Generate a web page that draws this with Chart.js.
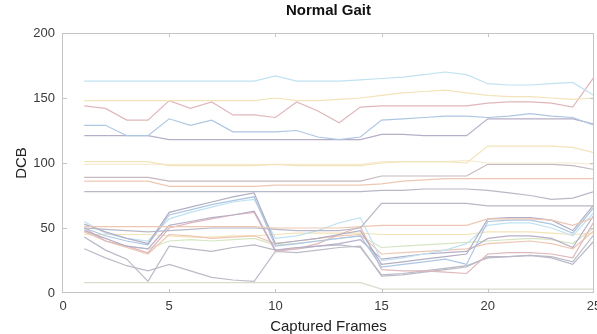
<!DOCTYPE html>
<html>
<head>
<meta charset="utf-8">
<title>Normal Gait</title>
<script src="https://cdn.jsdelivr.net/npm/chart.js@4.4.1/dist/chart.umd.min.js"></script>
<style>
  html, body { margin: 0; padding: 0; background: #ffffff; overflow: hidden; }
  #c { display: block; }
</style>
</head>
<body>
<canvas id="c" width="597" height="334"></canvas>
<script>
// Frame index shared by every trace
const frames = [1,2,3,4,5,6,7,8,9,10,11,12,13,14,15,16,17,18,19,20,21,22,23,24,25];

// DCB traces, one array per tracked point
const dcbA = [163,163,163,163,163,163,163,163,163,167,163,163,163,164,165,166,168,170,168,161,160,160,161,162,152];
const dcbB = [148,148,148,148,148,148,148,148,148,150,148,148,149,150,152,154,155,156,154,152,151,151,150,149,150];
const dcbC = [144,142,133,133,148,142,147,137,137,135,147,140,131,143,144,144,144,144,144,146,147,147,146,143,166];
const dcbD = [129,129,121,121,134,129,133,124,124,124,125,120,118,120,133,134,135,136,136,135,136,138,136,135,129];
const dcbE = [121,121,121,121,118,118,118,118,118,118,118,118,118,118,122,122,121,121,121,134,134,134,134,134,130];
const dcbF = [101,101,101,101,98,98,98,98,98,99,98,98,98,98,100,101,101,101,100,113,113,113,113,112,108];
const dcbG = [99,99,99,99,99,99,99,99,99,99,99,99,99,99,101,101,101,101,102,100,100,100,100,100,99];
const dcbH = [89,89,89,89,86,86,86,86,86,86,86,86,86,86,90,90,90,90,90,99,99,99,99,98,95];
const dcbI = [86,86,86,86,82,82,82,82,82,83,83,83,83,83,84,86,87,88,88,88,88,88,88,88,88];
const dcbJ = [78,78,78,78,78,78,78,78,78,78,78,78,78,78,79,79,80,80,80,79,77,75,72,73,78];
const dcbK = [50,49,48,47,48,49,50,50,50,49,48,48,48,50,69,69,69,69,69,67,67,67,67,67,67];
const dcbL = [51,51,51,51,51,51,51,51,51,50,50,50,50,51,52,52,52,52,52,57,57,57,56,52,58];
const dcbM = [53,47,42,38,62,66,70,74,77,38,40,42,45,48,22,24,26,28,30,57,58,58,56,48,68];
const dcbN = [50,44,40,37,60,64,68,71,74,36,38,40,42,44,20,22,24,26,22,55,56,56,53,46,66];
const dcbO = [55,46,42,40,57,62,66,70,72,42,44,48,54,58,25,27,30,33,38,52,54,54,50,44,62];
const dcbP = [48,42,36,34,52,55,58,60,63,33,35,36,38,41,26,28,30,31,32,42,44,44,42,35,60];
const dcbQ = [50,40,36,31,50,54,57,60,62,32,34,38,45,51,18,17,17,16,15,30,31,31,30,27,55];
const dcbR = [43,33,26,9,36,34,32,35,37,33,34,36,37,35,14,15,17,19,21,27,28,29,27,22,40];
const dcbS = [34,27,21,17,22,17,12,10,9,32,31,33,35,36,13,14,16,18,20,28,28,29,28,24,45];
const dcbT = [47,40,35,30,45,44,42,43,44,38,40,42,44,45,30,31,32,33,34,38,39,40,38,34,48];
const dcbU = [45,45,45,45,44,43,43,44,44,45,46,46,46,46,45,45,45,45,45,47,47,47,46,45,46];
const dcbV = [49,40,36,34,40,41,40,41,42,37,38,40,42,44,35,36,37,38,39,40,41,42,41,38,50];
const dcbW = [8,8,8,8,8,8,8,8,8,8,8,8,8,8,3,3,3,3,3,3,3,3,3,3,3];

// Axis ticks
const xTickValues = [0,5,10,15,20,25];
const yTickValues = [0,50,100,150,200];

// Faded default line palette
const pale = {
  blue:   '#adc6e3',
  orange: '#eec7b3',
  yellow: '#f3e3b8',
  purple: '#b7aec9',
  green:  '#d6e5c3',
  cyan:   '#c0e2f2',
  red:    '#e0b7bb',
  gray:   '#b8b8c6'
};

const traces = [
  [dcbA, pale.cyan], [dcbB, pale.yellow], [dcbC, pale.red], [dcbD, pale.blue],
  [dcbE, pale.purple], [dcbF, pale.yellow], [dcbG, '#f5ecd3'], [dcbH, '#c5b8c0'],
  [dcbI, pale.orange], [dcbJ, pale.gray], [dcbK, pale.gray], [dcbL, pale.orange],
  [dcbM, '#b2aec3'], [dcbN, pale.blue], [dcbO, pale.cyan], [dcbP, pale.purple],
  [dcbQ, pale.red], [dcbR, pale.gray], [dcbS, '#bcbcc8'], [dcbT, pale.orange],
  [dcbU, pale.yellow], [dcbV, pale.green], [dcbW, '#d8ddcb']
];

const datasets = traces.map(([vals, color], i) => ({
  label: 'P' + (i + 1),
  data: frames.map((f, k) => ({ x: f, y: vals[k] })),
  borderColor: color,
  backgroundColor: color,
  borderWidth: 1.2,
  pointRadius: 0,
  tension: 0,
  fill: false
}));

// Boxed axes with inward tick marks
const axesBox = {
  id: 'axesBox',
  afterDatasetsDraw(chart) {
    const { ctx, chartArea: a, scales: { x, y } } = chart;
    ctx.save();
    ctx.strokeStyle = '#c4c4c4';
    ctx.lineWidth = 1;
    ctx.strokeRect(Math.round(a.left) - 0.5, Math.round(a.top) + 0.5,
                   Math.round(a.right - a.left), Math.round(a.bottom - a.top) - 1);
    ctx.beginPath();
    xTickValues.slice(1, -1).forEach(v => {
      const px = Math.round(x.getPixelForValue(v)) + 0.5;
      ctx.moveTo(px, a.bottom); ctx.lineTo(px, a.bottom - 4);
      ctx.moveTo(px, a.top); ctx.lineTo(px, a.top + 4);
    });
    yTickValues.slice(1, -1).forEach(v => {
      const py = Math.round(y.getPixelForValue(v)) + 0.5;
      ctx.moveTo(a.left, py); ctx.lineTo(a.left + 4, py);
      ctx.moveTo(a.right, py); ctx.lineTo(a.right - 4, py);
    });
    ctx.stroke();
    ctx.restore();
  }
};

const tickFont = { family: 'Liberation Sans, Arial, sans-serif', size: 13 };
const labelFont = { family: 'Liberation Sans, Arial, sans-serif', size: 15 };

new Chart(document.getElementById('c'), {
  type: 'line',
  data: { datasets },
  options: {
    responsive: false,
    devicePixelRatio: 1,
    animation: false,
    events: [],
    layout: { padding: { left: 3, right: 3, top: 0, bottom: 0 } },
    plugins: {
      legend: { display: false },
      tooltip: { enabled: false },
      title: {
        display: true,
        text: 'Normal Gait',
        fullSize: false,
        color: '#111111',
        font: { family: 'Liberation Sans, Arial, sans-serif', size: 15, weight: 'bold' },
        padding: { top: 2, bottom: 13 }
      }
    },
    scales: {
      x: {
        type: 'linear',
        min: 0, max: 25,
        grid: { display: false, drawTicks: false },
        border: { display: false },
        afterBuildTicks: s => { s.ticks = xTickValues.map(v => ({ value: v })); },
        afterFit: s => { s.height = 41; s.paddingLeft = 0; s.paddingRight = 0; },
        ticks: { color: '#3a3a3a', font: tickFont, padding: 6, maxRotation: 0, autoSkip: false },
        title: { display: true, text: 'Captured Frames', color: '#222222', font: labelFont, padding: { top: 0, bottom: -2 } }
      },
      y: {
        min: 0, max: 200,
        grid: { display: false, drawTicks: false },
        border: { display: false },
        afterBuildTicks: s => { s.ticks = yTickValues.map(v => ({ value: v })); },
        afterFit: s => { s.width = 60; s.paddingTop = 0; s.paddingBottom = 0; },
        ticks: { color: '#3a3a3a', font: tickFont, padding: 8 },
        title: { display: true, text: 'DCB', color: '#222222', font: labelFont, padding: { top: 10, bottom: 0 } }
      }
    }
  },
  plugins: [axesBox]
});
</script>
</body>
</html>
